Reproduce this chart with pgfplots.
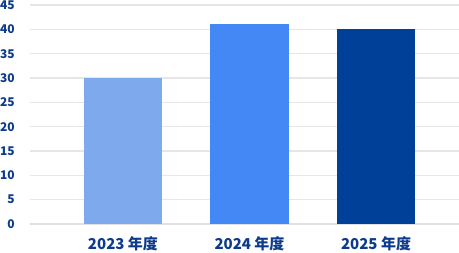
\documentclass[border=0pt]{standalone}
\usepackage{fontspec}
\setmainfont{Noto Sans CJK SC}
\usepackage{pgfplots}
\pgfplotsset{compat=1.18}
\definecolor{txt}{HTML}{0D3B8C}
\definecolor{grd}{HTML}{E6E6E6}
\definecolor{cA}{HTML}{7EA9EC}
\definecolor{cB}{HTML}{4488F5}
\definecolor{cC}{HTML}{004099}
\begin{document}
\begin{tikzpicture}
\begin{axis}[
  scale only axis,
  width=429bp, height=219bp,
  xmin=-0.735, xmax=2.656,
  ymin=0, ymax=45,
  ytick={0,5,...,45},
  xtick={0,1,2},
  xticklabels={2023 年度,2024 年度,2025 年度},
  ybar, bar shift=0pt, bar width=0.617,
  major tick length=0pt,
  ymajorgrids, grid style={draw=grd, line width=1.2bp},
  axis line style={draw=none},
  separate axis lines,
  axis x line*=bottom,
  x axis line style={draw=grd!120, line width=1.2bp},
  y axis line style={draw=none},
  tick label style={font=\bfseries, text=txt},
  yticklabel style={font=\fontsize{12bp}{12bp}\selectfont\bfseries, anchor=east, inner sep=0pt, xshift=-15bp},
  xticklabel style={font=\fontsize{15bp}{15bp}\selectfont\bfseries, anchor=base, inner sep=0pt, yshift=-25bp},
  /pgf/number format/assume math mode=true,
]
\addplot[fill=cA, draw=none] coordinates {(0,30)};
\addplot[fill=cB, draw=none] coordinates {(1,41)};
\addplot[fill=cC, draw=none] coordinates {(2,40)};
\end{axis}
\pgfresetboundingbox
\path[use as bounding box] (-30bp,-29bp) rectangle (429bp,224bp);
\end{tikzpicture}
\end{document}
